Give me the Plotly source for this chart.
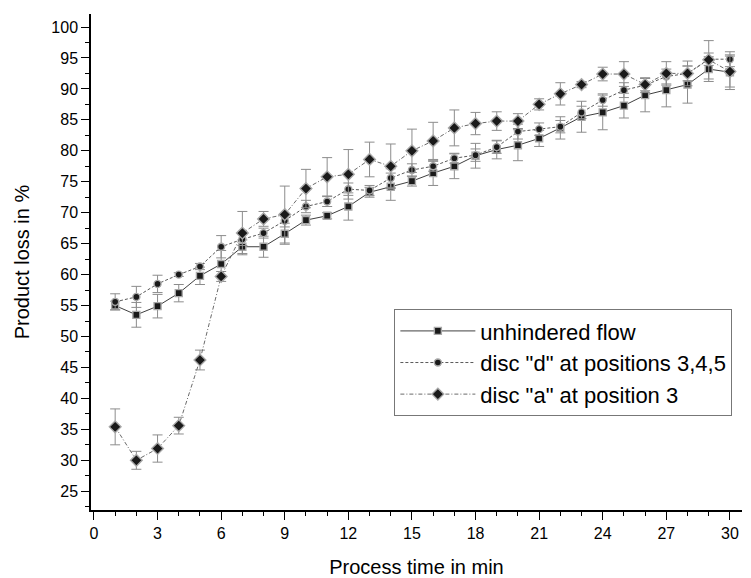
import plotly.graph_objects as go

time_min = list(range(1, 31))

unhindered = [55.0, 53.5, 54.9, 57.0, 59.8, 61.7, 64.5, 64.5, 66.6, 68.8,
              69.5, 71.0, 73.3, 74.2, 75.1, 76.4, 77.5, 79.2, 80.2, 80.9,
              82.0, 83.7, 85.5, 86.2, 87.3, 89.0, 89.8, 90.7, 93.2, 92.7]
unhindered_err = [0.7, 2.0, 1.9, 1.4, 1.4, 2.2, 1.1, 1.7, 1.7, 0.8,
                  0.5, 2.2, 0.8, 2.2, 0.8, 2.0, 2.0, 2.0, 1.5, 2.5,
                  1.3, 1.8, 2.5, 2.8, 2.0, 2.7, 2.7, 3.0, 2.0, 2.8]

disc_d = [55.6, 56.4, 58.5, 60.0, 61.3, 64.5, 65.7, 66.7, 68.7, 71.0,
          71.8, 73.8, 73.6, 75.6, 76.9, 77.5, 78.8, 79.3, 80.6, 83.1,
          83.5, 83.9, 86.2, 88.2, 89.8, 90.6, 92.0, 92.5, 94.8, 94.8]
disc_d_err = [1.3, 1.7, 1.4, 0.3, 0.5, 1.8, 1.0, 0.8, 1.0, 1.0,
              0.8, 1.0, 0.8, 1.5, 1.0, 0.8, 0.8, 1.0, 1.0, 1.2,
              1.0, 1.0, 1.0, 1.0, 1.2, 1.2, 1.2, 1.2, 1.0, 1.2]

disc_a = [35.4, 30.0, 31.9, 35.6, 46.2, 59.7, 66.7, 69.0, 69.7, 73.9,
          75.8, 76.2, 78.6, 77.5, 80.0, 81.6, 83.7, 84.4, 84.8, 84.8,
          87.5, 89.2, 90.7, 92.4, 92.4, 90.7, 92.5, 92.5, 94.7, 92.8]
disc_a_err = [2.9, 1.45, 2.2, 1.35, 1.6, 0.8, 3.5, 1.2, 4.6, 3.1,
              3.1, 4.0, 2.8, 3.6, 3.5, 3.0, 2.9, 1.8, 1.5, 1.2,
              0.9, 1.8, 0.5, 1.1, 2.0, 1.0, 1.9, 2.0, 3.1, 2.5]

x_ticks = list(range(0, 31, 3))
y_ticks = list(range(25, 101, 5))

names = ["unhindered flow", 'disc "d" at positions 3,4,5', 'disc "a" at position 3']

FONT = "Liberation Sans, Arial, sans-serif"
err_style = dict(type="data", color="#8c8c8c", thickness=1, width=5)
mk_line = dict(color="#a8a8a8", width=1.4)

fig = go.Figure()
fig.add_trace(go.Scatter(
    x=time_min, y=unhindered, name=names[0], mode="lines+markers",
    line=dict(color="#404040", width=1, dash="solid"),
    marker=dict(symbol="square", size=7, color="#1a1a1a", line=mk_line),
    error_y=dict(array=unhindered_err, **err_style),
))
fig.add_trace(go.Scatter(
    x=time_min, y=disc_d, name=names[1], mode="lines+markers",
    line=dict(color="#5a5a5a", width=1, dash="3px,2px"),
    marker=dict(symbol="circle", size=7, color="#1a1a1a", line=mk_line),
    error_y=dict(array=disc_d_err, **err_style),
))
fig.add_trace(go.Scatter(
    x=time_min, y=disc_a, name=names[2], mode="lines+markers",
    line=dict(color="#6a6a6a", width=1, dash="4px,2px,1px,2px"),
    marker=dict(symbol="diamond", size=9, color="#1a1a1a", line=mk_line),
    error_y=dict(array=disc_a_err, **err_style),
))

axis_font = dict(family=FONT, size=16, color="#000000")

# the page body adds an 8 px offset, so the figure is sized to fit in the window
fig.update_layout(
    width=743, height=570,
    margin=dict(l=83, r=9, t=6, b=68),
    paper_bgcolor="white", plot_bgcolor="white",
    font=dict(family=FONT, color="#000000"),
    showlegend=True,
    legend=dict(
        x=0.466, y=0.405, xanchor="left", yanchor="top",
        bgcolor="white", bordercolor="#777777", borderwidth=1,
        font=dict(family=FONT, size=22, color="#000000"),
        itemwidth=75, tracegroupgap=0,
    ),
    xaxis=dict(
        range=[-0.14, 30.57], tickmode="array", tickvals=x_ticks,
        ticktext=[str(v) for v in x_ticks], automargin=False,
        ticks="outside", ticklen=8, tickwidth=1.3, tickcolor="#000000",
        minor=dict(dtick=1, tick0=0, ticks="outside", ticklen=4, tickwidth=1.1, tickcolor="#000000"),
        showline=True, linecolor="#000000", linewidth=1.5,
        showgrid=False, zeroline=False,
        tickfont=axis_font,
        title=dict(text="Process time in min", font=dict(size=20, family=FONT), standoff=19),
    ),
    yaxis=dict(
        range=[21.97, 102.1], tickmode="array", tickvals=y_ticks,
        ticktext=[str(v) for v in y_ticks], automargin=False,
        ticks="outside", ticklen=8, tickwidth=1.3, tickcolor="#000000",
        minor=dict(dtick=2.5, tick0=0, ticks="outside", ticklen=4, tickwidth=1.1, tickcolor="#000000"),
        showline=True, linecolor="#000000", linewidth=1.5,
        showgrid=False, zeroline=False,
        tickfont=axis_font,
        title=dict(text="Product loss in %", font=dict(size=20, family=FONT), standoff=16),
    ),
)

fig.write_html("out.html")
